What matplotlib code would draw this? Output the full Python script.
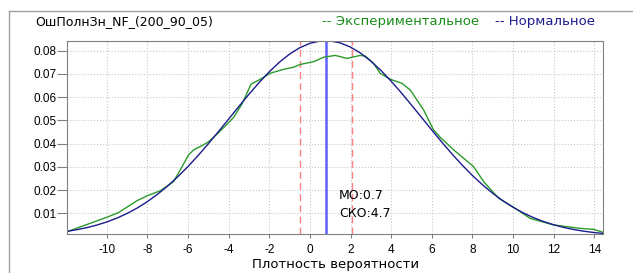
import matplotlib
matplotlib.use("Agg")
import matplotlib.pyplot as plt
from matplotlib.lines import Line2D

plt.rcParams['font.family'] = ['Liberation Sans', 'DejaVu Sans']
plt.rcParams['axes.unicode_minus'] = False

exp_x = [-11.95, -10.0, -9.43, -8.52, -8.0, -7.37, -6.72, -6.39, -5.98, -5.73,
         -5.32, -4.99, -4.58, -4.09, -3.76, -3.35, -2.9, -2.45, -1.96, -1.30,
         -0.81, -0.48, 0.18, 0.67, 1.25, 1.82, 2.48, 2.73, 3.13, 3.46,
         3.96, 4.53, 4.94, 5.60, 6.09, 6.42, 7.08, 7.57, 8.06, 8.56,
         9.29, 10.03, 10.85, 12.0, 13.3, 13.97, 14.45]
exp_y = [0.0021, 0.0083, 0.0103, 0.0154, 0.0176, 0.0197, 0.0236, 0.0286, 0.0351, 0.0373,
         0.0391, 0.0408, 0.0441, 0.0483, 0.0513, 0.0570, 0.0656, 0.0677, 0.0703, 0.0720,
         0.0729, 0.0741, 0.0753, 0.0772, 0.0780, 0.0767, 0.0780, 0.0777, 0.0746, 0.0703,
         0.0677, 0.0660, 0.0631, 0.0545, 0.0459, 0.0427, 0.0373, 0.0337, 0.0301, 0.0236,
         0.0165, 0.0126, 0.0078, 0.0050, 0.0035, 0.0031, 0.0018]

# normal density
norm_x = [-12.0, -11.5, -11.0, -10.5, -10.0, -9.5, -9.0, -8.5, -8.0, -7.5,
          -7.0, -6.5, -6.0, -5.5, -5.0, -4.5, -4.0, -3.5, -3.0, -2.5,
          -2.0, -1.5, -1.0, -0.5, 0.0, 0.5, 0.78, 1.0, 1.5, 2.0,
          2.5, 3.0, 3.5, 4.0, 4.5, 5.0, 5.5, 6.0, 6.5, 7.0,
          7.5, 8.0, 8.5, 9.0, 9.5, 10.0, 10.5, 11.0, 11.5, 12.0,
          12.5, 13.0, 13.5, 14.0, 14.5]
norm_y = [0.00219, 0.00290, 0.00380, 0.00491, 0.00628, 0.00795, 0.00995, 0.01231, 0.01506, 0.01823,
          0.02181, 0.02581, 0.03019, 0.03494, 0.03998, 0.04524, 0.05062, 0.05601, 0.06129, 0.06632,
          0.07096, 0.07509, 0.07858, 0.08131, 0.08320, 0.08419, 0.08434, 0.08425, 0.08337, 0.08158,
          0.07895, 0.07554, 0.07149, 0.06690, 0.06191, 0.05665, 0.05127, 0.04588, 0.04060, 0.03553,
          0.03075, 0.02631, 0.02227, 0.01863, 0.01542, 0.01262, 0.01021, 0.00817, 0.00647, 0.00506,
          0.00392, 0.00300, 0.00227, 0.00170, 0.00126]

mean = 0.78
bounds = [-0.51, 2.07]
x_ticks = [-10, -8, -6, -4, -2, 0, 2, 4, 6, 8, 10, 12, 14]
y_ticks = [0.01, 0.02, 0.03, 0.04, 0.05, 0.06, 0.07, 0.08]

wide = ['DejaVu Sans']

fig = plt.figure(figsize=(6.33, 2.73), dpi=100)
ax = fig.add_axes([0.1063, 0.143, 0.8468, 0.708])

# outer frame (top and left)
fig.add_artist(Line2D([9 / 633, 1], [1 - 11 / 273] * 2, color='#a0a0a0', lw=1))
fig.add_artist(Line2D([9 / 633] * 2, [0, 1 - 11 / 273], color='#a0a0a0', lw=1))

ax.grid(True, color='#c8c8c8', linestyle=':', linewidth=0.8)
ax.set_axisbelow(True)

for b in bounds:
    ax.axvline(b, color='#ff8080', linestyle=(0, (5, 3)), lw=1)
ax.axvline(mean, color='#6060ff', lw=1.8)

ax.plot(exp_x, exp_y, color='#2a9a2a', lw=1)
ax.plot(norm_x, norm_y, color='#1c1c8c', lw=1)

ax.set_xlim(-11.95, 14.45)
ax.set_ylim(0.0011, max(norm_y))
ax.set_xticks(x_ticks)
ax.set_yticks(y_ticks)
ax.set_yticklabels([f'{v:.2f}' for v in y_ticks])
ax.tick_params(labelsize=8.5, color='#808080', width=0.8)
ax.tick_params(axis='x', length=3, pad=4)
ax.tick_params(axis='y', length=7, pad=1)
for s in ax.spines.values():
    s.set_color('#808080')

ax.text(1.44, 0.0176, 'МО:0.7', fontsize=9, va='center', family=wide)
ax.text(1.44, 0.0100, 'СКО:4.7', fontsize=9, va='center', family=wide)
ax.set_xlabel('Плотность вероятности', fontsize=9.5, labelpad=2, family=wide)

ty = 1 - 22 / 273
fig.text(35 / 633, ty, 'ОшПолнЗн_NF_(200_90_05)', fontsize=9, va='center', family=wide)
fig.text(322 / 633, ty, '-- Экспериментальное', fontsize=9.5, va='center',
         color='#1a8c1a', family=wide)
fig.text(495 / 633, ty, '-- Нормальное', fontsize=9.5, va='center',
         color='#1c1c8c', family=wide)

fig.savefig('out.png', dpi=100)
